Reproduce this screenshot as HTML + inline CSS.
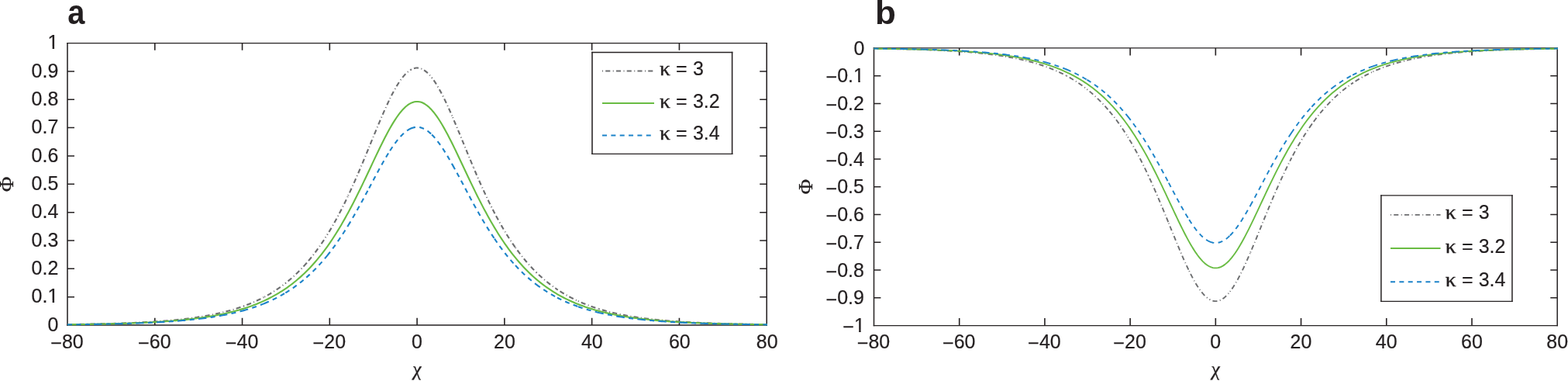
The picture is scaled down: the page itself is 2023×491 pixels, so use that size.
<!DOCTYPE html>
<html lang="en">
<head>
<meta charset="utf-8">
<title>Figure: soliton profiles</title>
<style>
html,body{margin:0;padding:0;background:#fff;}
body{width:2023px;height:491px;overflow:hidden;}
svg{display:block;}
text{fill:#231f20;font-family:"Liberation Sans",sans-serif;font-size:25.7px;stroke:#231f20;stroke-width:0.22px;}
.lg{word-spacing:0.3px;}
.dash{font-size:22.4px;stroke-width:0.35px;}
.ttl{font-weight:bold;font-size:44px;stroke:none;}
.sym{font-family:"Liberation Serif","DejaVu Serif",serif;font-size:27px;stroke:#231f20;stroke-width:0.35px;}
.kp{font-size:25.6px;stroke-width:0.4px;}
.it{font-style:italic;font-size:25.5px;stroke-width:0.3px;}
</style>
</head>
<body>
<svg width="2023" height="491" viewBox="0 0 2023 491">
<rect width="2023" height="491" fill="#fff"/>
<g id="panel-a">
<text class="ttl" transform="translate(87.3 31.2) scale(0.905 1.0)">a</text>
<path d="M87 54.9V419.7M989.2 54.9V419.7" fill="none" stroke="#262223" stroke-width="1.55"/>
<path d="M86.22 55.6H989.98M86.22 419H989.98" fill="none" stroke="#262223" stroke-width="1.4"/>
<path d="M199.78 419v-9.2M199.78 55.6v9.2M312.55 419v-9.2M312.55 55.6v9.2M425.32 419v-9.2M425.32 55.6v9.2M538.1 419v-9.2M538.1 55.6v9.2M650.88 419v-9.2M650.88 55.6v9.2M763.65 419v-9.2M763.65 55.6v9.2M876.42 419v-9.2M876.42 55.6v9.2" fill="none" stroke="#262223" stroke-width="1.6"/>
<path d="M87 382.66h9M989.2 382.66h-9M87 346.32h9M989.2 346.32h-9M87 309.98h9M989.2 309.98h-9M87 273.64h9M989.2 273.64h-9M87 237.3h9M989.2 237.3h-9M87 200.96h9M989.2 200.96h-9M87 164.62h9M989.2 164.62h-9M87 128.28h9M989.2 128.28h-9M87 91.94h9M989.2 91.94h-9" fill="none" stroke="#262223" stroke-width="1.5"/>
<path d="M87 418.14L89.31 418.11L91.62 418.08L93.94 418.04L96.25 418.01L98.56 417.98M98.56 417.98L100.81 417.94L103.05 417.91L105.3 417.87L107.55 417.83L109.8 417.79L112.05 417.75L114.29 417.71L116.54 417.67L118.79 417.62L121.04 417.58L123.28 417.53L125.53 417.48M125.53 417.48L127.78 417.43L130.03 417.37L132.28 417.32L134.52 417.26L136.77 417.2L139.02 417.14L141.27 417.08L143.51 417.02L145.76 416.95L148.01 416.88L150.26 416.81L152.51 416.74M152.51 416.74L154.75 416.66L157 416.58L159.25 416.5L161.5 416.42L163.74 416.33L165.99 416.24L168.24 416.15L170.49 416.05L172.74 415.95L174.98 415.85L177.23 415.74L179.48 415.63M179.48 415.63L181.73 415.52L183.97 415.4L186.22 415.28L188.47 415.15L190.72 415.03L192.96 414.89L195.21 414.75L197.46 414.61L199.71 414.46L201.96 414.31L204.2 414.15L206.45 413.99M206.45 413.99L208.7 413.82L210.95 413.65L213.19 413.47L215.44 413.28L217.69 413.09L219.94 412.89L222.19 412.68L224.43 412.47L226.68 412.25L228.93 412.02L231.18 411.79L233.42 411.55M233.42 411.55L235.67 411.29L237.92 411.03L240.17 410.77L242.42 410.49L244.66 410.2L246.91 409.91L249.16 409.6L251.41 409.29L253.65 408.96L255.9 408.62L258.15 408.27L260.4 407.91M260.4 407.91L262.64 407.54L264.89 407.15L267.14 406.75L269.39 406.34L271.64 405.92L273.88 405.47L276.13 405.02L278.38 404.55L280.63 404.06L282.87 403.56L285.12 403.04L287.37 402.51M287.37 402.51L289.62 401.95L291.87 401.38L294.11 400.79L296.36 400.17L298.61 399.54L300.86 398.89L303.1 398.21L305.35 397.51L307.6 396.79L309.85 396.05L312.1 395.28L314.34 394.48M314.34 394.48L316.59 393.66L318.84 392.81L321.09 391.93L323.33 391.02L325.58 390.08L327.83 389.11L330.08 388.11L332.33 387.07L334.57 386L336.82 384.9L339.07 383.76L341.32 382.58M341.32 382.58L343.56 381.36L345.81 380.1L348.06 378.8L350.31 377.46L352.55 376.07L354.8 374.64L357.05 373.16L359.3 371.63L361.55 370.06L363.79 368.43L366.04 366.75L368.29 365.01M368.29 365.01L370.54 363.22L372.78 361.37L375.03 359.46L377.28 357.49L379.53 355.46L381.78 353.36L384.02 351.19L386.27 348.96L388.52 346.66L390.77 344.29L393.01 341.84L395.26 339.32M395.26 339.32L397.51 336.72L399.76 334.04L402.01 331.28L404.25 328.44L406.5 325.51L408.75 322.5L411 319.4L413.24 316.21L415.49 312.93L417.74 309.55L419.99 306.08L422.23 302.52M422.23 302.52L424.48 298.86L426.73 295.11L428.98 291.25L431.23 287.3L433.47 283.25L435.72 279.1L437.97 274.85L440.22 270.51L442.46 266.06L444.71 261.52L446.96 256.89L449.21 252.16M449.21 252.16L451.46 247.34L453.7 242.43L455.95 237.45L458.2 232.38L460.45 227.23L462.69 222.02L464.94 216.75L467.19 211.41L469.44 206.03L471.69 200.61L473.93 195.16L476.18 189.68M476.18 189.68L478.43 184.19L480.68 178.71L482.92 173.24L485.17 167.79L487.42 162.39L489.67 157.04L491.92 151.76L494.16 146.58L496.41 141.49L498.66 136.53L500.91 131.71L503.15 127.05M503.15 127.05L505.4 122.56L507.65 118.27L509.9 114.19L512.14 110.34L514.39 106.74L516.64 103.4L518.89 100.35L521.14 97.59L523.38 95.14L525.63 93.02L527.88 91.23L530.13 89.78M530.13 89.78L532.37 88.68L534.62 87.94L536.87 87.56L539.12 87.54L541.37 87.89L543.61 88.6L545.86 89.66L548.11 91.08L550.36 92.84L552.6 94.93L554.85 97.35L557.1 100.08M557.1 100.08L559.35 103.1L561.6 106.41L563.84 109.99L566.09 113.81L568.34 117.87L570.59 122.15L572.83 126.61L575.08 131.26L577.33 136.07L579.58 141.02L581.82 146.09L584.07 151.27M584.07 151.27L586.32 156.54L588.57 161.88L590.82 167.28L593.06 172.72L595.31 178.19L597.56 183.68L599.81 189.16L602.05 194.64L604.3 200.1L606.55 205.52L608.8 210.91L611.05 216.25M611.05 216.25L613.29 221.53L615.54 226.75L617.79 231.9L620.04 236.97L622.28 241.97L624.53 246.88L626.78 251.71L629.03 256.44L631.28 261.09L633.52 265.64L635.77 270.09L638.02 274.45M638.02 274.45L640.27 278.7L642.51 282.86L644.76 286.92L647.01 290.88L649.26 294.75L651.51 298.51L653.75 302.18L656 305.75L658.25 309.23L660.5 312.61L662.74 315.9L664.99 319.1M664.99 319.1L667.24 322.21L669.49 325.23L671.73 328.16L673.98 331.02L676.23 333.78L678.48 336.47L680.73 339.08L682.97 341.61L685.22 344.06L687.47 346.44L689.72 348.75L691.96 350.99M691.96 350.99L694.21 353.16L696.46 355.26L698.71 357.3L700.96 359.28L703.2 361.19L705.45 363.05L707.7 364.84L709.95 366.58L712.19 368.27L714.44 369.9L716.69 371.49L718.94 373.02M718.94 373.02L721.19 374.5L723.43 375.94L725.68 377.33L727.93 378.68L730.18 379.98L732.42 381.24L734.67 382.46L736.92 383.65L739.17 384.79L741.41 385.9L743.66 386.97L745.91 388.01M745.91 388.01L748.16 389.02L750.41 389.99L752.65 390.93L754.9 391.84L757.15 392.72L759.4 393.58L761.64 394.4L763.89 395.2L766.14 395.97L768.39 396.72L770.64 397.45L772.88 398.15M772.88 398.15L775.13 398.82L777.38 399.48L779.63 400.12L781.87 400.73L784.12 401.32L786.37 401.9L788.62 402.45L790.87 402.99L793.11 403.51L795.36 404.02L797.61 404.5L799.86 404.98M799.86 404.98L802.1 405.43L804.35 405.87L806.6 406.3L808.85 406.71L811.1 407.11L813.34 407.5L815.59 407.88L817.84 408.24L820.09 408.59L822.33 408.93L824.58 409.25L826.83 409.57M826.83 409.57L829.08 409.88L831.32 410.18L833.57 410.46L835.82 410.74L838.07 411.01L840.32 411.27L842.56 411.52L844.81 411.77L847.06 412L849.31 412.23L851.55 412.45L853.8 412.66M853.8 412.66L856.05 412.87L858.3 413.07L860.55 413.26L862.79 413.45L865.04 413.63L867.29 413.8L869.54 413.97L871.78 414.14L874.03 414.3L876.28 414.45L878.53 414.6L880.78 414.74M880.78 414.74L883.02 414.88L885.27 415.01L887.52 415.14L889.77 415.27L892.01 415.39L894.26 415.51L896.51 415.62L898.76 415.73L901.01 415.84L903.25 415.94L905.5 416.04L907.75 416.14M907.75 416.14L910 416.23L912.24 416.32L914.49 416.41L916.74 416.49L918.99 416.57L921.23 416.65L923.48 416.73L925.73 416.8L927.98 416.87L930.23 416.94L932.47 417.01L934.72 417.08M934.72 417.08L936.97 417.14L939.22 417.2L941.46 417.26L943.71 417.31L945.96 417.37L948.21 417.42L950.46 417.47L952.7 417.52L954.95 417.57L957.2 417.62L959.45 417.66L961.69 417.71M961.69 417.71L963.94 417.75L966.19 417.79L968.44 417.83L970.69 417.87L972.93 417.9L975.18 417.94L977.43 417.97L979.68 418.01L981.92 418.04L984.17 418.07L986.42 418.1L988.67 418.13M988.67 418.13L988.93 418.13L989.2 418.14L989.95 418.14" fill="none" stroke="#6d6e70" stroke-width="2.1" stroke-linejoin="round" stroke-dasharray="1 3.2 6.1 3.45"/>
<path d="M87 418.25L89.31 418.22L91.62 418.2L93.94 418.17L96.25 418.14L98.56 418.11L100.81 418.08L103.05 418.05L105.3 418.02L107.55 417.99L109.8 417.95L112.05 417.92L114.29 417.88L116.54 417.84L118.79 417.8L121.04 417.76L123.28 417.72L125.53 417.68L127.78 417.63L130.03 417.59L132.28 417.54L134.52 417.49L136.77 417.44L139.02 417.39L141.27 417.33L143.51 417.28L145.76 417.22L148.01 417.16L150.26 417.1L152.51 417.03L154.75 416.97L157 416.9L159.25 416.83L161.5 416.75L163.74 416.68L165.99 416.6L168.24 416.52L170.49 416.44L172.74 416.35L174.98 416.26L177.23 416.17L179.48 416.07L181.73 415.97L183.97 415.87L186.22 415.77L188.47 415.66L190.72 415.55L192.96 415.43L195.21 415.31L197.46 415.19L199.71 415.06L201.96 414.92L204.2 414.79L206.45 414.64L208.7 414.5L210.95 414.35L213.19 414.19L215.44 414.03L217.69 413.86L219.94 413.69L222.19 413.51L224.43 413.32L226.68 413.13L228.93 412.94L231.18 412.73L233.42 412.52L235.67 412.3L237.92 412.08L240.17 411.84L242.42 411.6L244.66 411.35L246.91 411.1L249.16 410.83L251.41 410.56L253.65 410.27L255.9 409.98L258.15 409.68L260.4 409.36L262.64 409.04L264.89 408.7L267.14 408.36L269.39 408L271.64 407.63L273.88 407.25L276.13 406.85L278.38 406.44L280.63 406.02L282.87 405.58L285.12 405.13L287.37 404.67L289.62 404.18L291.87 403.69L294.11 403.17L296.36 402.64L298.61 402.09L300.86 401.52L303.1 400.93L305.35 400.33L307.6 399.7L309.85 399.05L312.1 398.38L314.34 397.69L316.59 396.97L318.84 396.23L321.09 395.47L323.33 394.68L325.58 393.87L327.83 393.02L330.08 392.15L332.33 391.25L334.57 390.32L336.82 389.36L339.07 388.37L341.32 387.35L343.56 386.29L345.81 385.19L348.06 384.06L350.31 382.9L352.55 381.69L354.8 380.45L357.05 379.16L359.3 377.83L361.55 376.46L363.79 375.05L366.04 373.59L368.29 372.08L370.54 370.52L372.78 368.91L375.03 367.25L377.28 365.54L379.53 363.77L381.78 361.95L384.02 360.07L386.27 358.13L388.52 356.13L390.77 354.07L393.01 351.94L395.26 349.75L397.51 347.49L399.76 345.16L402.01 342.76L404.25 340.29L406.5 337.75L408.75 335.13L411 332.43L413.24 329.66L415.49 326.81L417.74 323.88L419.99 320.86L422.23 317.77L424.48 314.59L426.73 311.32L428.98 307.97L431.23 304.54L433.47 301.02L435.72 297.41L437.97 293.72L440.22 289.94L442.46 286.08L444.71 282.13L446.96 278.11L449.21 274L451.46 269.81L453.7 265.55L455.95 261.21L458.2 256.81L460.45 252.34L462.69 247.81L464.94 243.22L467.19 238.59L469.44 233.91L471.69 229.2L473.93 224.46L476.18 219.7L478.43 214.93L480.68 210.16L482.92 205.41L485.17 200.67L487.42 195.98L489.67 191.33L491.92 186.74L494.16 182.23L496.41 177.82L498.66 173.5L500.91 169.31L503.15 165.26L505.4 161.36L507.65 157.63L509.9 154.09L512.14 150.74L514.39 147.61L516.64 144.71L518.89 142.06L521.14 139.66L523.38 137.54L525.63 135.69L527.88 134.13L530.13 132.87L532.37 131.92L534.62 131.27L536.87 130.94L539.12 130.93L541.37 131.23L543.61 131.84L545.86 132.77L548.11 134L550.36 135.53L552.6 137.35L554.85 139.45L557.1 141.82L559.35 144.45L561.6 147.33L563.84 150.44L566.09 153.76L568.34 157.29L570.59 161L572.83 164.89L575.08 168.92L577.33 173.1L579.58 177.4L581.82 181.81L584.07 186.31L586.32 190.89L588.57 195.54L590.82 200.23L593.06 204.96L595.31 209.71L597.56 214.48L599.81 219.25L602.05 224.01L604.3 228.75L606.55 233.46L608.8 238.15L611.05 242.78L613.29 247.37L615.54 251.91L617.79 256.39L620.04 260.8L622.28 265.14L624.53 269.41L626.78 273.6L629.03 277.72L631.28 281.76L633.52 285.71L635.77 289.58L638.02 293.37L640.27 297.07L642.51 300.68L644.76 304.21L647.01 307.65L649.26 311.01L651.51 314.28L653.75 317.47L656 320.58L658.25 323.6L660.5 326.54L662.74 329.4L664.99 332.18L667.24 334.88L669.49 337.5L671.73 340.05L673.98 342.53L676.23 344.94L678.48 347.27L680.73 349.54L682.97 351.74L685.22 353.87L687.47 355.94L689.72 357.94L691.96 359.89L694.21 361.78L696.46 363.6L698.71 365.38L700.96 367.09L703.2 368.76L705.45 370.37L707.7 371.93L709.95 373.44L712.19 374.91L714.44 376.33L716.69 377.71L718.94 379.04L721.19 380.33L723.43 381.57L725.68 382.78L727.93 383.95L730.18 385.09L732.42 386.18L734.67 387.25L736.92 388.27L739.17 389.27L741.41 390.23L743.66 391.17L745.91 392.07L748.16 392.94L750.41 393.79L752.65 394.6L754.9 395.4L757.15 396.16L759.4 396.9L761.64 397.62L763.89 398.32L766.14 398.99L768.39 399.64L770.64 400.27L772.88 400.88L775.13 401.47L777.38 402.04L779.63 402.59L781.87 403.12L784.12 403.64L786.37 404.14L788.62 404.62L790.87 405.09L793.11 405.54L795.36 405.98L797.61 406.4L799.86 406.81L802.1 407.21L804.35 407.59L806.6 407.96L808.85 408.32L811.1 408.67L813.34 409.01L815.59 409.33L817.84 409.65L820.09 409.95L822.33 410.25L824.58 410.53L826.83 410.81L829.08 411.07L831.32 411.33L833.57 411.58L835.82 411.82L838.07 412.06L840.32 412.28L842.56 412.5L844.81 412.71L847.06 412.92L849.31 413.11L851.55 413.31L853.8 413.49L856.05 413.67L858.3 413.84L860.55 414.01L862.79 414.18L865.04 414.33L867.29 414.48L869.54 414.63L871.78 414.77L874.03 414.91L876.28 415.04L878.53 415.17L880.78 415.3L883.02 415.42L885.27 415.53L887.52 415.65L889.77 415.76L892.01 415.86L894.26 415.96L896.51 416.06L898.76 416.16L901.01 416.25L903.25 416.34L905.5 416.43L907.75 416.51L910 416.59L912.24 416.67L914.49 416.75L916.74 416.82L918.99 416.89L921.23 416.96L923.48 417.03L925.73 417.09L927.98 417.15L930.23 417.21L932.47 417.27L934.72 417.33L936.97 417.38L939.22 417.43L941.46 417.49L943.71 417.53L945.96 417.58L948.21 417.63L950.46 417.67L952.7 417.72L954.95 417.76L957.2 417.8L959.45 417.84L961.69 417.88L963.94 417.91L966.19 417.95L968.44 417.98L970.69 418.02L972.93 418.05L975.18 418.08L977.43 418.11L979.68 418.14L981.92 418.17L984.17 418.19L986.42 418.22L988.67 418.24L988.93 418.25L989.2 418.25L989.95 418.25" fill="none" stroke="#69bc43" stroke-width="2.1" stroke-linejoin="round"/>
<path d="M87 418.34L89.31 418.31L91.62 418.29L93.94 418.26L96.25 418.24L98.56 418.21M98.56 418.21L100.81 418.19L103.05 418.16L105.3 418.13L107.55 418.1L109.8 418.07L112.05 418.04L114.29 418.01L116.54 417.97L118.79 417.94L121.04 417.9L123.28 417.87L125.53 417.83M125.53 417.83L127.78 417.79L130.03 417.75L132.28 417.71L134.52 417.66L136.77 417.62L139.02 417.57L141.27 417.52L143.51 417.47L145.76 417.42L148.01 417.37L150.26 417.31L152.51 417.26M152.51 417.26L154.75 417.2L157 417.14L159.25 417.08L161.5 417.01L163.74 416.94L165.99 416.87L168.24 416.8L170.49 416.73L172.74 416.65L174.98 416.57L177.23 416.49L179.48 416.41M179.48 416.41L181.73 416.32L183.97 416.23L186.22 416.14L188.47 416.04L190.72 415.94L192.96 415.84L195.21 415.73L197.46 415.62L199.71 415.51L201.96 415.39L204.2 415.27L206.45 415.14M206.45 415.14L208.7 415.01L210.95 414.88L213.19 414.74L215.44 414.6L217.69 414.45L219.94 414.29L222.19 414.14L224.43 413.97L226.68 413.8L228.93 413.63L231.18 413.45L233.42 413.26M233.42 413.26L235.67 413.07L237.92 412.87L240.17 412.66L242.42 412.45L244.66 412.23L246.91 412L249.16 411.76L251.41 411.52L253.65 411.27L255.9 411.01L258.15 410.74L260.4 410.46M260.4 410.46L262.64 410.17L264.89 409.88L267.14 409.57L269.39 409.25L271.64 408.93L273.88 408.59L276.13 408.24L278.38 407.87L280.63 407.5L282.87 407.11L285.12 406.71L287.37 406.3M287.37 406.3L289.62 405.87L291.87 405.43L294.11 404.98L296.36 404.51L298.61 404.02L300.86 403.52L303.1 403L305.35 402.46L307.6 401.9L309.85 401.33L312.1 400.73L314.34 400.12M314.34 400.12L316.59 399.49L318.84 398.83L321.09 398.16L323.33 397.46L325.58 396.73L327.83 395.99L330.08 395.22L332.33 394.42L334.57 393.6L336.82 392.75L339.07 391.87L341.32 390.96M341.32 390.96L343.56 390.02L345.81 389.05L348.06 388.05L350.31 387.02L352.55 385.95L354.8 384.85L357.05 383.71L359.3 382.53L361.55 381.32L363.79 380.06L366.04 378.77L368.29 377.43M368.29 377.43L370.54 376.05L372.78 374.63L375.03 373.16L377.28 371.64L379.53 370.08L381.78 368.46L384.02 366.8L386.27 365.08L388.52 363.31L390.77 361.48L393.01 359.6L395.26 357.65M395.26 357.65L397.51 355.65L399.76 353.59L402.01 351.46L404.25 349.28L406.5 347.02L408.75 344.7L411 342.32L413.24 339.86L415.49 337.33L417.74 334.74L419.99 332.07L422.23 329.32M422.23 329.32L424.48 326.51L426.73 323.61L428.98 320.65L431.23 317.61L433.47 314.49L435.72 311.29L437.97 308.02L440.22 304.67L442.46 301.25L444.71 297.76L446.96 294.19L449.21 290.55M449.21 290.55L451.46 286.84L453.7 283.06L455.95 279.22L458.2 275.32L460.45 271.36L462.69 267.35L464.94 263.29L467.19 259.18L469.44 255.04L471.69 250.86L473.93 246.66L476.18 242.45M476.18 242.45L478.43 238.22L480.68 234L482.92 229.79L485.17 225.6L487.42 221.44L489.67 217.32L491.92 213.26L494.16 209.26L496.41 205.35L498.66 201.53L500.91 197.82L503.15 194.23M503.15 194.23L505.4 190.77L507.65 187.47L509.9 184.33L512.14 181.36L514.39 178.59L516.64 176.02L518.89 173.67L521.14 171.55L523.38 169.67L525.63 168.03L527.88 166.65L530.13 165.53M530.13 165.53L532.37 164.69L534.62 164.12L536.87 163.83L539.12 163.81L541.37 164.08L543.61 164.62L545.86 165.44L548.11 166.53L550.36 167.89L552.6 169.5L554.85 171.36L557.1 173.46M557.1 173.46L559.35 175.79L561.6 178.34L563.84 181.09L566.09 184.04L568.34 187.16L570.59 190.45L572.83 193.89L575.08 197.47L577.33 201.17L579.58 204.98L581.82 208.89L584.07 212.88M584.07 212.88L586.32 216.93L588.57 221.05L590.82 225.2L593.06 229.39L595.31 233.6L597.56 237.83L599.81 242.05L602.05 246.27L604.3 250.47L606.55 254.64L608.8 258.79L611.05 262.9M611.05 262.9L613.29 266.97L615.54 270.98L617.79 274.95L620.04 278.86L622.28 282.7L624.53 286.49L626.78 290.2L629.03 293.85L631.28 297.42L633.52 300.93L635.77 304.35L638.02 307.71M638.02 307.71L640.27 310.99L642.51 314.19L644.76 317.31L647.01 320.36L649.26 323.34L651.51 326.24L653.75 329.06L656 331.81L658.25 334.49L660.5 337.09L662.74 339.62L664.99 342.09M664.99 342.09L667.24 344.48L669.49 346.81L671.73 349.07L673.98 351.26L676.23 353.39L678.48 355.46L680.73 357.47L682.97 359.41L685.22 361.3L687.47 363.14L689.72 364.91L691.96 366.64M691.96 366.64L694.21 368.31L696.46 369.93L698.71 371.5L700.96 373.02L703.2 374.49L705.45 375.92L707.7 377.3L709.95 378.64L712.19 379.94L714.44 381.2L716.69 382.42L718.94 383.6M718.94 383.6L721.19 384.74L723.43 385.85L725.68 386.92L727.93 387.95L730.18 388.96L732.42 389.93L734.67 390.87L736.92 391.78L739.17 392.66L741.41 393.52L743.66 394.34L745.91 395.14M745.91 395.14L748.16 395.92L750.41 396.66L752.65 397.39L754.9 398.09L757.15 398.77L759.4 399.43L761.64 400.06L763.89 400.68L766.14 401.27L768.39 401.85L770.64 402.41L772.88 402.95M772.88 402.95L775.13 403.47L777.38 403.97L779.63 404.46L781.87 404.93L784.12 405.39L786.37 405.83L788.62 406.26L790.87 406.68L793.11 407.08L795.36 407.46L797.61 407.84L799.86 408.2M799.86 408.2L802.1 408.55L804.35 408.89L806.6 409.22L808.85 409.54L811.1 409.85L813.34 410.15L815.59 410.44L817.84 410.71L820.09 410.98L822.33 411.24L824.58 411.5L826.83 411.74M826.83 411.74L829.08 411.98L831.32 412.21L833.57 412.43L835.82 412.64L838.07 412.85L840.32 413.05L842.56 413.24L844.81 413.43L847.06 413.61L849.31 413.79L851.55 413.96L853.8 414.12M853.8 414.12L856.05 414.28L858.3 414.43L860.55 414.58L862.79 414.73L865.04 414.87L867.29 415L869.54 415.13L871.78 415.26L874.03 415.38L876.28 415.5L878.53 415.61L880.78 415.72M880.78 415.72L883.02 415.83L885.27 415.93L887.52 416.03L889.77 416.13L892.01 416.22L894.26 416.31L896.51 416.4L898.76 416.48L901.01 416.57L903.25 416.64L905.5 416.72L907.75 416.8M907.75 416.8L910 416.87L912.24 416.94L914.49 417L916.74 417.07L918.99 417.13L921.23 417.19L923.48 417.25L925.73 417.31L927.98 417.36L930.23 417.42L932.47 417.47L934.72 417.52M934.72 417.52L936.97 417.57L939.22 417.61L941.46 417.66L943.71 417.7L945.96 417.74L948.21 417.79L950.46 417.82L952.7 417.86L954.95 417.9L957.2 417.94L959.45 417.97L961.69 418M961.69 418L963.94 418.04L966.19 418.07L968.44 418.1L970.69 418.13L972.93 418.16L975.18 418.18L977.43 418.21L979.68 418.24L981.92 418.26L984.17 418.28L986.42 418.31L988.67 418.33M988.67 418.33L988.93 418.33L989.2 418.34L989.95 418.34" fill="none" stroke="#1c83c9" stroke-width="2.1" stroke-linejoin="round" stroke-dasharray="6 5.35"/>
<text class="tk" text-anchor="middle" transform="translate(86.65 449.1) scale(0.972 1)"><tspan class="dash" dx="0.45" dy="-0.9">–</tspan><tspan dx="1.45" dy="0.9">80</tspan></text>
<text class="tk" text-anchor="middle" transform="translate(199.43 449.1) scale(0.972 1)"><tspan class="dash" dx="0.45" dy="-0.9">–</tspan><tspan dx="1.45" dy="0.9">60</tspan></text>
<text class="tk" text-anchor="middle" transform="translate(312.2 449.1) scale(0.972 1)"><tspan class="dash" dx="0.45" dy="-0.9">–</tspan><tspan dx="1.45" dy="0.9">40</tspan></text>
<text class="tk" text-anchor="middle" transform="translate(424.97 449.1) scale(0.972 1)"><tspan class="dash" dx="0.45" dy="-0.9">–</tspan><tspan dx="1.45" dy="0.9">20</tspan></text>
<text class="tk" text-anchor="middle" transform="translate(538 449.1) scale(0.972 1)">0</text>
<text class="tk" text-anchor="middle" transform="translate(650.94 449.1) scale(0.972 1)">20</text>
<text class="tk" text-anchor="middle" transform="translate(763.87 449.1) scale(0.972 1)">40</text>
<text class="tk" text-anchor="middle" transform="translate(876.81 449.1) scale(0.972 1)">60</text>
<text class="tk" text-anchor="middle" transform="translate(989.75 449.1) scale(0.972 1)">80</text>
<text class="tk" text-anchor="end" transform="translate(75.3 426.6) scale(0.972 1)">0</text>
<text class="tk" text-anchor="end" transform="translate(75.3 390.26) scale(0.972 1)">0.1</text>
<path d="M61.6 387.56h6.03v3.4h-6.03zM70.1 387.56h5.6v3.4h-5.6z" fill="#fff"/>
<text class="tk" text-anchor="end" transform="translate(75.3 353.92) scale(0.972 1)">0.2</text>
<text class="tk" text-anchor="end" transform="translate(75.3 317.58) scale(0.972 1)">0.3</text>
<text class="tk" text-anchor="end" transform="translate(75.3 281.24) scale(0.972 1)">0.4</text>
<text class="tk" text-anchor="end" transform="translate(75.3 244.9) scale(0.972 1)">0.5</text>
<text class="tk" text-anchor="end" transform="translate(75.3 208.56) scale(0.972 1)">0.6</text>
<text class="tk" text-anchor="end" transform="translate(75.3 172.22) scale(0.972 1)">0.7</text>
<text class="tk" text-anchor="end" transform="translate(75.3 135.88) scale(0.972 1)">0.8</text>
<text class="tk" text-anchor="end" transform="translate(75.3 99.54) scale(0.972 1)">0.9</text>
<text class="tk" text-anchor="end" transform="translate(75.3 63.2) scale(0.972 1)">1</text>
<path d="M61.6 60.5h6.03v3.4h-6.03zM70.1 60.5h5.6v3.4h-5.6z" fill="#fff"/>
<text class="sym it" text-anchor="middle" transform="translate(538.7 484.2) skewX(5) scale(1.02 1)">χ</text>
<text class="sym" text-anchor="middle" transform="translate(16.6 237.3) rotate(-90) scale(1 0.935)">Φ</text>
<rect x="764" y="67.5" width="180.6" height="130.9" fill="#fff" stroke="none"/>
<path d="M764 66.8V199.1M944.6 66.8V199.1" fill="none" stroke="#262223" stroke-width="1.55"/>
<path d="M763.23 67.5H945.38M763.23 198.4H945.38" fill="none" stroke="#262223" stroke-width="1.4"/>
<line x1="777" y1="91.5" x2="844" y2="91.5" stroke="#6d6e70" stroke-width="1.8" stroke-dasharray="1 3.2 6.1 3.45"/>
<text class="tk lg" transform="translate(851 97.4) scale(0.972 1)"><tspan class="sym kp" textLength="14.3" lengthAdjust="spacingAndGlyphs">κ</tspan> = 3</text>
<line x1="777" y1="133.1" x2="844" y2="133.1" stroke="#69bc43" stroke-width="2"/>
<text class="tk lg" transform="translate(851 138.8) scale(0.972 1)"><tspan class="sym kp" textLength="14.3" lengthAdjust="spacingAndGlyphs">κ</tspan> = 3.2</text>
<line x1="777" y1="174.55" x2="844" y2="174.55" stroke="#1c83c9" stroke-width="2.1" stroke-dasharray="6 5.35"/>
<text class="tk lg" transform="translate(851 180.1) scale(0.972 1)"><tspan class="sym kp" textLength="14.3" lengthAdjust="spacingAndGlyphs">κ</tspan> = 3.4</text>
</g>
<g id="panel-b">
<text class="ttl" transform="translate(1128.9 31) scale(1.0 0.97)">b</text>
<path d="M1127.5 61.25V420.2M2009.2 61.25V420.2" fill="none" stroke="#262223" stroke-width="1.5"/>
<path d="M1126.75 61.9H2009.95M1126.75 419.55H2009.95" fill="none" stroke="#262223" stroke-width="1.3"/>
<path d="M1237.71 419.55v-9.5M1237.71 61.9v9.5M1347.92 419.55v-9.5M1347.92 61.9v9.5M1458.14 419.55v-9.5M1458.14 61.9v9.5M1568.35 419.55v-9.5M1568.35 61.9v9.5M1678.56 419.55v-9.5M1678.56 61.9v9.5M1788.78 419.55v-9.5M1788.78 61.9v9.5M1898.99 419.55v-9.5M1898.99 61.9v9.5" fill="none" stroke="#262223" stroke-width="1.6"/>
<path d="M1127.5 383.79h8.9M2009.2 383.79h-8.9M1127.5 348.02h8.9M2009.2 348.02h-8.9M1127.5 312.25h8.9M2009.2 312.25h-8.9M1127.5 276.49h8.9M2009.2 276.49h-8.9M1127.5 240.72h8.9M2009.2 240.72h-8.9M1127.5 204.96h8.9M2009.2 204.96h-8.9M1127.5 169.19h8.9M2009.2 169.19h-8.9M1127.5 133.43h8.9M2009.2 133.43h-8.9M1127.5 97.66h8.9M2009.2 97.66h-8.9" fill="none" stroke="#262223" stroke-width="1.55"/>
<path d="M1127.5 62.75L1129.76 62.78L1132.02 62.81L1134.28 62.84L1136.54 62.87L1138.8 62.91M1138.8 62.91L1140.99 62.94L1143.19 62.98L1145.39 63.01L1147.58 63.05L1149.78 63.09L1151.98 63.13L1154.17 63.17L1156.37 63.21L1158.57 63.26L1160.76 63.3L1162.96 63.35L1165.16 63.4M1165.16 63.4L1167.35 63.45L1169.55 63.5L1171.75 63.55L1173.94 63.61L1176.14 63.67L1178.34 63.73L1180.53 63.79L1182.73 63.85L1184.93 63.92L1187.12 63.99L1189.32 64.06L1191.52 64.13M1191.52 64.13L1193.71 64.2L1195.91 64.28L1198.11 64.36L1200.3 64.44L1202.5 64.53L1204.7 64.62L1206.89 64.71L1209.09 64.8L1211.29 64.9L1213.48 65L1215.68 65.11L1217.88 65.21M1217.88 65.21L1220.07 65.33L1222.27 65.44L1224.47 65.56L1226.66 65.68L1228.86 65.81L1231.06 65.94L1233.25 66.08L1235.45 66.22L1237.65 66.37L1239.84 66.52L1242.04 66.67L1244.24 66.83M1244.24 66.83L1246.43 67L1248.63 67.17L1250.83 67.35L1253.02 67.53L1255.22 67.72L1257.42 67.92L1259.61 68.12L1261.81 68.33L1264.01 68.54L1266.2 68.77L1268.4 69L1270.6 69.24M1270.6 69.24L1272.79 69.48L1274.99 69.74L1277.19 70L1279.38 70.28L1281.58 70.56L1283.78 70.85L1285.97 71.15L1288.17 71.46L1290.37 71.78L1292.56 72.12L1294.76 72.46L1296.96 72.81M1296.96 72.81L1299.15 73.18L1301.35 73.56L1303.55 73.95L1305.74 74.36L1307.94 74.78L1310.14 75.21L1312.33 75.66L1314.53 76.12L1316.73 76.6L1318.92 77.09L1321.12 77.6L1323.32 78.13M1323.32 78.13L1325.51 78.68L1327.71 79.24L1329.91 79.83L1332.1 80.43L1334.3 81.05L1336.5 81.69L1338.69 82.36L1340.89 83.05L1343.09 83.76L1345.28 84.49L1347.48 85.25L1349.68 86.03M1349.68 86.03L1351.87 86.84L1354.07 87.68L1356.27 88.55L1358.46 89.44L1360.66 90.36L1362.86 91.32L1365.05 92.3L1367.25 93.32L1369.45 94.37L1371.64 95.46L1373.84 96.59L1376.04 97.75M1376.04 97.75L1378.23 98.94L1380.43 100.18L1382.63 101.46L1384.82 102.78L1387.02 104.15L1389.22 105.56L1391.41 107.01L1393.61 108.52L1395.81 110.07L1398 111.67L1400.2 113.33L1402.4 115.04M1402.4 115.04L1404.59 116.8L1406.79 118.62L1408.99 120.5L1411.18 122.44L1413.38 124.44L1415.58 126.5L1417.77 128.63L1419.97 130.83L1422.17 133.09L1424.36 135.43L1426.56 137.84L1428.76 140.32M1428.76 140.32L1430.95 142.88L1433.15 145.52L1435.35 148.23L1437.54 151.03L1439.74 153.91L1441.94 156.88L1444.13 159.93L1446.33 163.07L1448.53 166.3L1450.72 169.62L1452.92 173.03L1455.12 176.54M1455.12 176.54L1457.31 180.14L1459.51 183.83L1461.71 187.63L1463.9 191.52L1466.1 195.5L1468.3 199.59L1470.49 203.77L1472.69 208.05L1474.89 212.42L1477.08 216.89L1479.28 221.45L1481.48 226.1M1481.48 226.1L1483.67 230.84L1485.87 235.67L1488.07 240.58L1490.26 245.57L1492.46 250.63L1494.66 255.76L1496.85 260.95L1499.05 266.2L1501.25 271.5L1503.44 276.83L1505.64 282.2L1507.84 287.59M1507.84 287.59L1510.03 292.99L1512.23 298.39L1514.43 303.77L1516.62 309.13L1518.82 314.45L1521.02 319.71L1523.21 324.91L1525.41 330.01L1527.61 335.02L1529.8 339.9L1532 344.64L1534.2 349.23M1534.2 349.23L1536.39 353.65L1538.59 357.87L1540.79 361.89L1542.98 365.68L1545.18 369.22L1547.38 372.5L1549.57 375.51L1551.77 378.22L1553.97 380.63L1556.16 382.72L1558.36 384.49L1560.56 385.91M1560.56 385.91L1562.75 386.99L1564.95 387.72L1567.15 388.09L1569.34 388.11L1571.54 387.77L1573.74 387.08L1575.93 386.03L1578.13 384.63L1580.33 382.9L1582.52 380.84L1584.72 378.46L1586.92 375.78M1586.92 375.78L1589.11 372.8L1591.31 369.54L1593.51 366.02L1595.7 362.26L1597.9 358.26L1600.1 354.06L1602.29 349.66L1604.49 345.08L1606.69 340.35L1608.88 335.48L1611.08 330.49L1613.28 325.39M1613.28 325.39L1615.47 320.21L1617.67 314.95L1619.87 309.64L1622.06 304.28L1624.26 298.9L1626.46 293.5L1628.65 288.1L1630.85 282.71L1633.05 277.34L1635.24 272L1637.44 266.7L1639.64 261.45M1639.64 261.45L1641.83 256.25L1644.03 251.11L1646.23 246.04L1648.42 241.05L1650.62 236.13L1652.82 231.3L1655.01 226.55L1657.21 221.88L1659.41 217.31L1661.6 212.84L1663.8 208.45L1666 204.17M1666 204.17L1668.19 199.98L1670.39 195.88L1672.59 191.89L1674.78 187.99L1676.98 184.19L1679.18 180.48L1681.37 176.87L1683.57 173.36L1685.77 169.93L1687.97 166.61L1690.16 163.37L1692.36 160.22M1692.36 160.22L1694.56 157.16L1696.75 154.19L1698.95 151.3L1701.15 148.49L1703.34 145.77L1705.54 143.13L1707.74 140.56L1709.93 138.07L1712.13 135.65L1714.33 133.31L1716.52 131.04L1718.72 128.84M1718.72 128.84L1720.92 126.7L1723.11 124.63L1725.31 122.62L1727.51 120.68L1729.7 118.8L1731.9 116.97L1734.1 115.2L1736.29 113.49L1738.49 111.83L1740.69 110.22L1742.88 108.66L1745.08 107.15M1745.08 107.15L1747.28 105.69L1749.47 104.28L1751.67 102.91L1753.87 101.59L1756.06 100.3L1758.26 99.06L1760.46 97.86L1762.65 96.69L1764.85 95.57L1767.05 94.48L1769.24 93.42L1771.44 92.4M1771.44 92.4L1773.64 91.41L1775.83 90.45L1778.03 89.52L1780.23 88.63L1782.42 87.76L1784.62 86.92L1786.82 86.11L1789.01 85.32L1791.21 84.56L1793.41 83.83L1795.6 83.11L1797.8 82.42M1797.8 82.42L1800 81.76L1802.19 81.11L1804.39 80.49L1806.59 79.88L1808.78 79.3L1810.98 78.73L1813.18 78.18L1815.37 77.65L1817.57 77.14L1819.77 76.65L1821.96 76.17L1824.16 75.7M1824.16 75.7L1826.36 75.25L1828.55 74.82L1830.75 74.4L1832.95 73.99L1835.14 73.6L1837.34 73.22L1839.54 72.85L1841.73 72.49L1843.93 72.15L1846.13 71.81L1848.32 71.49L1850.52 71.18M1850.52 71.18L1852.72 70.88L1854.91 70.58L1857.11 70.3L1859.31 70.03L1861.5 69.76L1863.7 69.51L1865.9 69.26L1868.09 69.02L1870.29 68.79L1872.49 68.56L1874.68 68.35L1876.88 68.14M1876.88 68.14L1879.08 67.93L1881.27 67.74L1883.47 67.55L1885.67 67.36L1887.86 67.19L1890.06 67.01L1892.26 66.85L1894.45 66.69L1896.65 66.53L1898.85 66.38L1901.04 66.23L1903.24 66.09M1903.24 66.09L1905.44 65.96L1907.63 65.82L1909.83 65.7L1912.03 65.57L1914.22 65.45L1916.42 65.34L1918.62 65.23L1920.81 65.12L1923.01 65.01L1925.21 64.91L1927.4 64.81L1929.6 64.72M1929.6 64.72L1931.8 64.63L1933.99 64.54L1936.19 64.45L1938.39 64.37L1940.58 64.29L1942.78 64.21L1944.98 64.14L1947.17 64.06L1949.37 63.99L1951.57 63.92L1953.76 63.86L1955.96 63.79M1955.96 63.79L1958.16 63.73L1960.35 63.67L1962.55 63.61L1964.75 63.56L1966.94 63.51L1969.14 63.45L1971.34 63.4L1973.53 63.35L1975.73 63.31L1977.93 63.26L1980.12 63.22L1982.32 63.17M1982.32 63.17L1984.52 63.13L1986.71 63.09L1988.91 63.05L1991.11 63.02L1993.3 62.98L1995.5 62.94L1997.7 62.91L1999.89 62.88L2002.09 62.85L2004.29 62.81L2006.48 62.78L2008.68 62.76M2008.68 62.76L2008.94 62.75L2009.2 62.75L2009.95 62.75" fill="none" stroke="#6d6e70" stroke-width="1.9" stroke-linejoin="round" stroke-dasharray="1 3.2 6.1 3.45"/>
<path d="M1127.5 62.64L1129.76 62.66L1132.02 62.69L1134.28 62.72L1136.54 62.75L1138.8 62.77L1140.99 62.8L1143.19 62.83L1145.39 62.87L1147.58 62.9L1149.78 62.93L1151.98 62.97L1154.17 63L1156.37 63.04L1158.57 63.08L1160.76 63.12L1162.96 63.16L1165.16 63.2L1167.35 63.25L1169.55 63.29L1171.75 63.34L1173.94 63.39L1176.14 63.44L1178.34 63.49L1180.53 63.54L1182.73 63.6L1184.93 63.65L1187.12 63.71L1189.32 63.77L1191.52 63.84L1193.71 63.9L1195.91 63.97L1198.11 64.04L1200.3 64.11L1202.5 64.19L1204.7 64.26L1206.89 64.34L1209.09 64.42L1211.29 64.51L1213.48 64.6L1215.68 64.69L1217.88 64.78L1220.07 64.88L1222.27 64.98L1224.47 65.08L1226.66 65.19L1228.86 65.3L1231.06 65.41L1233.25 65.53L1235.45 65.65L1237.65 65.78L1239.84 65.91L1242.04 66.05L1244.24 66.19L1246.43 66.33L1248.63 66.48L1250.83 66.63L1253.02 66.79L1255.22 66.96L1257.42 67.13L1259.61 67.3L1261.81 67.49L1264.01 67.67L1266.2 67.87L1268.4 68.07L1270.6 68.28L1272.79 68.49L1274.99 68.71L1277.19 68.94L1279.38 69.18L1281.58 69.42L1283.78 69.68L1285.97 69.94L1288.17 70.21L1290.37 70.49L1292.56 70.78L1294.76 71.08L1296.96 71.39L1299.15 71.7L1301.35 72.03L1303.55 72.38L1305.74 72.73L1307.94 73.09L1310.14 73.47L1312.33 73.86L1314.53 74.26L1316.73 74.68L1318.92 75.11L1321.12 75.55L1323.32 76.01L1325.51 76.48L1327.71 76.97L1329.91 77.48L1332.1 78L1334.3 78.54L1336.5 79.1L1338.69 79.68L1340.89 80.28L1343.09 80.9L1345.28 81.53L1347.48 82.19L1349.68 82.87L1351.87 83.58L1354.07 84.31L1356.27 85.06L1358.46 85.83L1360.66 86.64L1362.86 87.47L1365.05 88.32L1367.25 89.21L1369.45 90.12L1371.64 91.07L1373.84 92.05L1376.04 93.05L1378.23 94.1L1380.43 95.17L1382.63 96.28L1384.82 97.43L1387.02 98.62L1389.22 99.84L1391.41 101.11L1393.61 102.42L1395.81 103.77L1398 105.16L1400.2 106.6L1402.4 108.08L1404.59 109.61L1406.79 111.2L1408.99 112.83L1411.18 114.51L1413.38 116.25L1415.58 118.05L1417.77 119.9L1419.97 121.81L1422.17 123.78L1424.36 125.81L1426.56 127.9L1428.76 130.06L1430.95 132.28L1433.15 134.57L1435.35 136.93L1437.54 139.36L1439.74 141.87L1441.94 144.44L1444.13 147.1L1446.33 149.82L1448.53 152.63L1450.72 155.52L1452.92 158.48L1455.12 161.53L1457.31 164.66L1459.51 167.87L1461.71 171.17L1463.9 174.55L1466.1 178.01L1468.3 181.56L1470.49 185.2L1472.69 188.92L1474.89 192.72L1477.08 196.6L1479.28 200.57L1481.48 204.61L1483.67 208.73L1485.87 212.93L1488.07 217.19L1490.26 221.53L1492.46 225.93L1494.66 230.39L1496.85 234.9L1499.05 239.46L1501.25 244.06L1503.44 248.7L1505.64 253.37L1507.84 258.05L1510.03 262.74L1512.23 267.43L1514.43 272.11L1516.62 276.77L1518.82 281.39L1521.02 285.97L1523.21 290.48L1525.41 294.92L1527.61 299.27L1529.8 303.51L1532 307.64L1534.2 311.62L1536.39 315.46L1538.59 319.13L1540.79 322.62L1542.98 325.91L1545.18 328.99L1547.38 331.85L1549.57 334.46L1551.77 336.82L1553.97 338.91L1556.16 340.73L1558.36 342.26L1560.56 343.5L1562.75 344.44L1564.95 345.07L1567.15 345.4L1569.34 345.41L1571.54 345.12L1573.74 344.51L1575.93 343.6L1578.13 342.39L1580.33 340.89L1582.52 339.09L1584.72 337.03L1586.92 334.69L1589.11 332.1L1591.31 329.27L1593.51 326.21L1595.7 322.94L1597.9 319.47L1600.1 315.82L1602.29 311.99L1604.49 308.02L1606.69 303.91L1608.88 299.67L1611.08 295.33L1613.28 290.9L1615.47 286.4L1617.67 281.83L1619.87 277.21L1622.06 272.55L1624.26 267.88L1626.46 263.19L1628.65 258.49L1630.85 253.81L1633.05 249.14L1635.24 244.5L1637.44 239.89L1639.64 235.33L1641.83 230.81L1644.03 226.35L1646.23 221.94L1648.42 217.6L1650.62 213.33L1652.82 209.12L1655.01 205L1657.21 200.94L1659.41 196.97L1661.6 193.08L1663.8 189.27L1666 185.55L1668.19 181.9L1670.39 178.35L1672.59 174.87L1674.78 171.48L1676.98 168.18L1679.18 164.96L1681.37 161.82L1683.57 158.77L1685.77 155.79L1687.97 152.9L1690.16 150.09L1692.36 147.35L1694.56 144.69L1696.75 142.11L1698.95 139.6L1701.15 137.16L1703.34 134.79L1705.54 132.49L1707.74 130.26L1709.93 128.1L1712.13 126L1714.33 123.96L1716.52 121.99L1718.72 120.08L1720.92 118.22L1723.11 116.42L1725.31 114.68L1727.51 112.99L1729.7 111.35L1731.9 109.76L1734.1 108.22L1736.29 106.73L1738.49 105.29L1740.69 103.89L1742.88 102.54L1745.08 101.23L1747.28 99.96L1749.47 98.73L1751.67 97.54L1753.87 96.39L1756.06 95.28L1758.26 94.2L1760.46 93.15L1762.65 92.14L1764.85 91.16L1767.05 90.21L1769.24 89.29L1771.44 88.41L1773.64 87.55L1775.83 86.71L1778.03 85.91L1780.23 85.13L1782.42 84.38L1784.62 83.65L1786.82 82.94L1789.01 82.26L1791.21 81.6L1793.41 80.96L1795.6 80.34L1797.8 79.74L1800 79.16L1802.19 78.6L1804.39 78.05L1806.59 77.53L1808.78 77.02L1810.98 76.53L1813.18 76.05L1815.37 75.59L1817.57 75.15L1819.77 74.72L1821.96 74.3L1824.16 73.9L1826.36 73.5L1828.55 73.13L1830.75 72.76L1832.95 72.41L1835.14 72.07L1837.34 71.74L1839.54 71.42L1841.73 71.11L1843.93 70.81L1846.13 70.52L1848.32 70.24L1850.52 69.96L1852.72 69.7L1854.91 69.45L1857.11 69.2L1859.31 68.96L1861.5 68.73L1863.7 68.51L1865.9 68.3L1868.09 68.09L1870.29 67.89L1872.49 67.69L1874.68 67.5L1876.88 67.32L1879.08 67.14L1881.27 66.97L1883.47 66.81L1885.67 66.65L1887.86 66.49L1890.06 66.34L1892.26 66.2L1894.45 66.06L1896.65 65.92L1898.85 65.79L1901.04 65.67L1903.24 65.54L1905.44 65.43L1907.63 65.31L1909.83 65.2L1912.03 65.09L1914.22 64.99L1916.42 64.89L1918.62 64.79L1920.81 64.7L1923.01 64.6L1925.21 64.52L1927.4 64.43L1929.6 64.35L1931.8 64.27L1933.99 64.19L1936.19 64.12L1938.39 64.05L1940.58 63.98L1942.78 63.91L1944.98 63.84L1947.17 63.78L1949.37 63.72L1951.57 63.66L1953.76 63.6L1955.96 63.55L1958.16 63.49L1960.35 63.44L1962.55 63.39L1964.75 63.34L1966.94 63.3L1969.14 63.25L1971.34 63.21L1973.53 63.16L1975.73 63.12L1977.93 63.08L1980.12 63.04L1982.32 63.01L1984.52 62.97L1986.71 62.94L1988.91 62.9L1991.11 62.87L1993.3 62.84L1995.5 62.81L1997.7 62.78L1999.89 62.75L2002.09 62.72L2004.29 62.69L2006.48 62.67L2008.68 62.64L2008.94 62.64L2009.2 62.64L2009.95 62.64" fill="none" stroke="#69bc43" stroke-width="1.9" stroke-linejoin="round"/>
<path d="M1127.5 62.55L1129.76 62.58L1132.02 62.6L1134.28 62.62L1136.54 62.65L1138.8 62.67M1138.8 62.67L1140.99 62.7L1143.19 62.73L1145.39 62.76L1147.58 62.78L1149.78 62.81L1151.98 62.85L1154.17 62.88L1156.37 62.91L1158.57 62.94L1160.76 62.98L1162.96 63.02L1165.16 63.05M1165.16 63.05L1167.35 63.09L1169.55 63.13L1171.75 63.17L1173.94 63.22L1176.14 63.26L1178.34 63.31L1180.53 63.35L1182.73 63.4L1184.93 63.45L1187.12 63.51L1189.32 63.56L1191.52 63.62M1191.52 63.62L1193.71 63.67L1195.91 63.73L1198.11 63.79L1200.3 63.86L1202.5 63.92L1204.7 63.99L1206.89 64.06L1209.09 64.14L1211.29 64.21L1213.48 64.29L1215.68 64.37L1217.88 64.45M1217.88 64.45L1220.07 64.54L1222.27 64.63L1224.47 64.72L1226.66 64.81L1228.86 64.91L1231.06 65.01L1233.25 65.12L1235.45 65.23L1237.65 65.34L1239.84 65.45L1242.04 65.57L1244.24 65.7M1244.24 65.7L1246.43 65.82L1248.63 65.96L1250.83 66.09L1253.02 66.23L1255.22 66.38L1257.42 66.53L1259.61 66.69L1261.81 66.85L1264.01 67.01L1266.2 67.19L1268.4 67.36L1270.6 67.55M1270.6 67.55L1272.79 67.74L1274.99 67.94L1277.19 68.14L1279.38 68.35L1281.58 68.57L1283.78 68.79L1285.97 69.02L1288.17 69.26L1290.37 69.51L1292.56 69.76L1294.76 70.03L1296.96 70.3M1296.96 70.3L1299.15 70.59L1301.35 70.88L1303.55 71.18L1305.74 71.49L1307.94 71.81L1310.14 72.15L1312.33 72.49L1314.53 72.85L1316.73 73.22L1318.92 73.6L1321.12 73.99L1323.32 74.4M1323.32 74.4L1325.51 74.82L1327.71 75.25L1329.91 75.7L1332.1 76.16L1334.3 76.64L1336.5 77.14L1338.69 77.65L1340.89 78.18L1343.09 78.73L1345.28 79.29L1347.48 79.88L1349.68 80.48M1349.68 80.48L1351.87 81.1L1354.07 81.75L1356.27 82.41L1358.46 83.1L1360.66 83.81L1362.86 84.55L1365.05 85.31L1367.25 86.09L1369.45 86.9L1371.64 87.74L1373.84 88.6L1376.04 89.5M1376.04 89.5L1378.23 90.42L1380.43 91.37L1382.63 92.36L1384.82 93.38L1387.02 94.43L1389.22 95.51L1391.41 96.63L1393.61 97.79L1395.81 98.99L1398 100.22L1400.2 101.49L1402.4 102.81M1402.4 102.81L1404.59 104.17L1406.79 105.57L1408.99 107.02L1411.18 108.51L1413.38 110.05L1415.58 111.64L1417.77 113.28L1419.97 114.97L1422.17 116.71L1424.36 118.51L1426.56 120.36L1428.76 122.28M1428.76 122.28L1430.95 124.25L1433.15 126.28L1435.35 128.37L1437.54 130.52L1439.74 132.74L1441.94 135.02L1444.13 137.37L1446.33 139.79L1448.53 142.27L1450.72 144.83L1452.92 147.46L1455.12 150.16M1455.12 150.16L1457.31 152.93L1459.51 155.78L1461.71 158.7L1463.9 161.69L1466.1 164.76L1468.3 167.9L1470.49 171.12L1472.69 174.42L1474.89 177.78L1477.08 181.22L1479.28 184.74L1481.48 188.32M1481.48 188.32L1483.67 191.97L1485.87 195.69L1488.07 199.47L1490.26 203.31L1492.46 207.2L1494.66 211.15L1496.85 215.15L1499.05 219.19L1501.25 223.27L1503.44 227.38L1505.64 231.51L1507.84 235.66M1507.84 235.66L1510.03 239.82L1512.23 243.97L1514.43 248.12L1516.62 252.24L1518.82 256.34L1521.02 260.39L1523.21 264.39L1525.41 268.32L1527.61 272.17L1529.8 275.93L1532 279.58L1534.2 283.12M1534.2 283.12L1536.39 286.52L1538.59 289.77L1540.79 292.86L1542.98 295.78L1545.18 298.5L1547.38 301.03L1549.57 303.35L1551.77 305.44L1553.97 307.29L1556.16 308.9L1558.36 310.26L1560.56 311.36M1560.56 311.36L1562.75 312.19L1564.95 312.75L1567.15 313.04L1569.34 313.05L1571.54 312.79L1573.74 312.25L1575.93 311.45L1578.13 310.37L1580.33 309.04L1582.52 307.45L1584.72 305.62L1586.92 303.55M1586.92 303.55L1589.11 301.26L1591.31 298.75L1593.51 296.04L1595.7 293.14L1597.9 290.07L1600.1 286.83L1602.29 283.44L1604.49 279.92L1606.69 276.28L1608.88 272.53L1611.08 268.69L1613.28 264.76M1613.28 264.76L1615.47 260.77L1617.67 256.72L1619.87 252.63L1622.06 248.51L1624.26 244.36L1626.46 240.21L1628.65 236.05L1630.85 231.9L1633.05 227.77L1635.24 223.66L1637.44 219.57L1639.64 215.53M1639.64 215.53L1641.83 211.53L1644.03 207.57L1646.23 203.67L1648.42 199.83L1650.62 196.04L1652.82 192.32L1655.01 188.66L1657.21 185.07L1659.41 181.55L1661.6 178.11L1663.8 174.73L1666 171.43M1666 171.43L1668.19 168.2L1670.39 165.05L1672.59 161.98L1674.78 158.98L1676.98 156.05L1679.18 153.2L1681.37 150.42L1683.57 147.71L1685.77 145.08L1687.97 142.51L1690.16 140.02L1692.36 137.6M1692.36 137.6L1694.56 135.24L1696.75 132.95L1698.95 130.73L1701.15 128.57L1703.34 126.47L1705.54 124.43L1707.74 122.46L1709.93 120.54L1712.13 118.68L1714.33 116.88L1716.52 115.13L1718.72 113.43M1718.72 113.43L1720.92 111.79L1723.11 110.2L1725.31 108.65L1727.51 107.15L1729.7 105.7L1731.9 104.3L1734.1 102.94L1736.29 101.62L1738.49 100.34L1740.69 99.1L1742.88 97.9L1745.08 96.74M1745.08 96.74L1747.28 95.62L1749.47 94.53L1751.67 93.47L1753.87 92.45L1756.06 91.47L1758.26 90.51L1760.46 89.58L1762.65 88.69L1764.85 87.82L1767.05 86.98L1769.24 86.17L1771.44 85.38M1771.44 85.38L1773.64 84.62L1775.83 83.88L1778.03 83.17L1780.23 82.48L1782.42 81.81L1784.62 81.16L1786.82 80.54L1789.01 79.93L1791.21 79.35L1793.41 78.78L1795.6 78.23L1797.8 77.7M1797.8 77.7L1800 77.19L1802.19 76.69L1804.39 76.21L1806.59 75.74L1808.78 75.29L1810.98 74.86L1813.18 74.44L1815.37 74.03L1817.57 73.63L1819.77 73.25L1821.96 72.88L1824.16 72.53M1824.16 72.53L1826.36 72.18L1828.55 71.85L1830.75 71.52L1832.95 71.21L1835.14 70.91L1837.34 70.61L1839.54 70.33L1841.73 70.05L1843.93 69.79L1846.13 69.53L1848.32 69.28L1850.52 69.04M1850.52 69.04L1852.72 68.81L1854.91 68.59L1857.11 68.37L1859.31 68.16L1861.5 67.95L1863.7 67.76L1865.9 67.57L1868.09 67.38L1870.29 67.2L1872.49 67.03L1874.68 66.86L1876.88 66.7M1876.88 66.7L1879.08 66.55L1881.27 66.39L1883.47 66.25L1885.67 66.11L1887.86 65.97L1890.06 65.84L1892.26 65.71L1894.45 65.58L1896.65 65.46L1898.85 65.35L1901.04 65.24L1903.24 65.13M1903.24 65.13L1905.44 65.02L1907.63 64.92L1909.83 64.82L1912.03 64.73L1914.22 64.64L1916.42 64.55L1918.62 64.46L1920.81 64.38L1923.01 64.3L1925.21 64.22L1927.4 64.14L1929.6 64.07M1929.6 64.07L1931.8 64L1933.99 63.93L1936.19 63.86L1938.39 63.8L1940.58 63.74L1942.78 63.68L1944.98 63.62L1947.17 63.56L1949.37 63.51L1951.57 63.46L1953.76 63.41L1955.96 63.36M1955.96 63.36L1958.16 63.31L1960.35 63.26L1962.55 63.22L1964.75 63.18L1966.94 63.14L1969.14 63.1L1971.34 63.06L1973.53 63.02L1975.73 62.98L1977.93 62.95L1980.12 62.91L1982.32 62.88M1982.32 62.88L1984.52 62.85L1986.71 62.82L1988.91 62.79L1991.11 62.76L1993.3 62.73L1995.5 62.7L1997.7 62.68L1999.89 62.65L2002.09 62.63L2004.29 62.6L2006.48 62.58L2008.68 62.56M2008.68 62.56L2008.94 62.56L2009.2 62.55L2009.95 62.55" fill="none" stroke="#1c83c9" stroke-width="1.9" stroke-linejoin="round" stroke-dasharray="6 5.35"/>
<text class="tk" text-anchor="middle" transform="translate(1127.15 448.95) scale(0.972 1)"><tspan class="dash" dx="0.45" dy="-0.9">–</tspan><tspan dx="1.45" dy="0.9">80</tspan></text>
<text class="tk" text-anchor="middle" transform="translate(1237.36 448.95) scale(0.972 1)"><tspan class="dash" dx="0.45" dy="-0.9">–</tspan><tspan dx="1.45" dy="0.9">60</tspan></text>
<text class="tk" text-anchor="middle" transform="translate(1347.58 448.95) scale(0.972 1)"><tspan class="dash" dx="0.45" dy="-0.9">–</tspan><tspan dx="1.45" dy="0.9">40</tspan></text>
<text class="tk" text-anchor="middle" transform="translate(1457.79 448.95) scale(0.972 1)"><tspan class="dash" dx="0.45" dy="-0.9">–</tspan><tspan dx="1.45" dy="0.9">20</tspan></text>
<text class="tk" text-anchor="middle" transform="translate(1568.15 448.95) scale(0.972 1)">0</text>
<text class="tk" text-anchor="middle" transform="translate(1678.41 448.95) scale(0.972 1)">20</text>
<text class="tk" text-anchor="middle" transform="translate(1788.68 448.95) scale(0.972 1)">40</text>
<text class="tk" text-anchor="middle" transform="translate(1898.94 448.95) scale(0.972 1)">60</text>
<text class="tk" text-anchor="middle" transform="translate(2009.2 448.95) scale(0.972 1)">80</text>
<text class="tk" text-anchor="end" transform="translate(1115.4 428.25) scale(0.972 1)"><tspan class="dash" dx="0.45" dy="-0.9">–</tspan><tspan dx="1.45" dy="0.9">1</tspan></text>
<path d="M1102.14 425.55h6.03v3.4h-6.03zM1110.64 425.55h5.6v3.4h-5.6z" fill="#fff"/>
<text class="tk" text-anchor="end" transform="translate(1114.5 392.49) scale(0.972 1)"><tspan class="dash" dx="0.45" dy="-0.9">–</tspan><tspan dx="1.45" dy="0.9">0.9</tspan></text>
<text class="tk" text-anchor="end" transform="translate(1114.5 356.72) scale(0.972 1)"><tspan class="dash" dx="0.45" dy="-0.9">–</tspan><tspan dx="1.45" dy="0.9">0.8</tspan></text>
<text class="tk" text-anchor="end" transform="translate(1114.5 320.95) scale(0.972 1)"><tspan class="dash" dx="0.45" dy="-0.9">–</tspan><tspan dx="1.45" dy="0.9">0.7</tspan></text>
<text class="tk" text-anchor="end" transform="translate(1114.5 285.19) scale(0.972 1)"><tspan class="dash" dx="0.45" dy="-0.9">–</tspan><tspan dx="1.45" dy="0.9">0.6</tspan></text>
<text class="tk" text-anchor="end" transform="translate(1114.5 249.42) scale(0.972 1)"><tspan class="dash" dx="0.45" dy="-0.9">–</tspan><tspan dx="1.45" dy="0.9">0.5</tspan></text>
<text class="tk" text-anchor="end" transform="translate(1114.5 213.66) scale(0.972 1)"><tspan class="dash" dx="0.45" dy="-0.9">–</tspan><tspan dx="1.45" dy="0.9">0.4</tspan></text>
<text class="tk" text-anchor="end" transform="translate(1114.5 177.89) scale(0.972 1)"><tspan class="dash" dx="0.45" dy="-0.9">–</tspan><tspan dx="1.45" dy="0.9">0.3</tspan></text>
<text class="tk" text-anchor="end" transform="translate(1114.5 142.13) scale(0.972 1)"><tspan class="dash" dx="0.45" dy="-0.9">–</tspan><tspan dx="1.45" dy="0.9">0.2</tspan></text>
<text class="tk" text-anchor="end" transform="translate(1114.5 106.36) scale(0.972 1)"><tspan class="dash" dx="0.45" dy="-0.9">–</tspan><tspan dx="1.45" dy="0.9">0.1</tspan></text>
<path d="M1101.24 103.66h6.03v3.4h-6.03zM1109.74 103.66h5.6v3.4h-5.6z" fill="#fff"/>
<text class="tk" text-anchor="end" transform="translate(1115.4 70.6) scale(0.972 1)">0</text>
<text class="sym it" text-anchor="middle" transform="translate(1568.95 483.8) skewX(5) scale(1.02 1)">χ</text>
<text class="sym" text-anchor="middle" transform="translate(1047.7 240.72) rotate(-90) scale(1 0.935)">Φ</text>
<rect x="1781.9" y="251.9" width="169.05" height="136.5" fill="#fff" stroke="none"/>
<path d="M1781.9 251.25V389.05M1950.95 251.25V389.05" fill="none" stroke="#262223" stroke-width="1.5"/>
<path d="M1781.15 251.9H1951.7M1781.15 388.4H1951.7" fill="none" stroke="#262223" stroke-width="1.3"/>
<line x1="1794" y1="276.9" x2="1858.5" y2="276.9" stroke="#6d6e70" stroke-width="1.62" stroke-dasharray="1 3.2 6.1 3.45"/>
<text class="tk lg" transform="translate(1864.8 282.4) scale(0.972 1)"><tspan class="sym kp" textLength="14.3" lengthAdjust="spacingAndGlyphs">κ</tspan> = 3</text>
<line x1="1794" y1="320" x2="1858.5" y2="320" stroke="#69bc43" stroke-width="1.8"/>
<text class="tk lg" transform="translate(1864.8 325.8) scale(0.972 1)"><tspan class="sym kp" textLength="14.3" lengthAdjust="spacingAndGlyphs">κ</tspan> = 3.2</text>
<line x1="1794" y1="363.2" x2="1858.5" y2="363.2" stroke="#1c83c9" stroke-width="1.89" stroke-dasharray="6 5.35"/>
<text class="tk lg" transform="translate(1864.8 369.1) scale(0.972 1)"><tspan class="sym kp" textLength="14.3" lengthAdjust="spacingAndGlyphs">κ</tspan> = 3.4</text>
</g>
</svg>
</body>
</html>
